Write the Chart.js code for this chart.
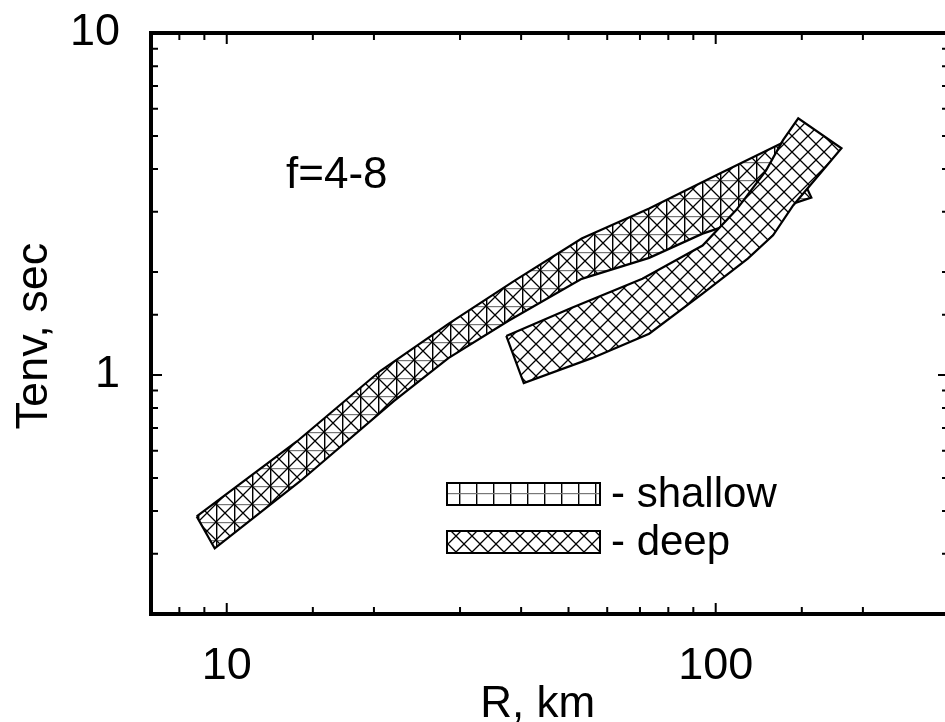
<!DOCTYPE html>
<html><head><meta charset="utf-8">
<script src="https://cdn.jsdelivr.net/npm/chart.js@4.4.1/dist/chart.umd.min.js"></script>
<style>
html,body{margin:0;padding:0;background:#fff;overflow:hidden;}
#wrap{width:945px;height:722px;overflow:hidden;position:relative;background:#fff;}
#inner{width:950px;height:722px;position:absolute;left:0;top:0;}
canvas{display:block;}
</style></head><body>
<div id="wrap"><div id="inner"><canvas id="c" width="950" height="722" style="width:950px;height:722px"></canvas></div></div>
<script>
// ---- data (R in km, Tenv in sec), band outlines ----
const xTickLabels = ['10', '100'];
const yTickLabels = ['1', '10'];
const shallowR = [8.68, 13.93, 20.6, 28.4, 38.8, 53.2, 73.1, 100, 138.7, 156.9, 94.0, 73.1, 53.2, 37.7, 28.4, 21.96, 14.13, 9.45, 8.68];
const shallowT = [0.386, 0.640, 1.027, 1.411, 1.887, 2.505, 3.07, 3.83, 4.82, 3.30, 2.59, 2.20, 1.91, 1.44, 1.12, 0.839, 0.489, 0.311, 0.386];
const deepR = [37.3, 50.8, 70.8, 94.0, 110, 126.7, 137.3, 147.5, 180.8, 144.0, 131.0, 116.3, 94.0, 73.1, 55.8, 40.5, 37.3];
const deepT = [1.301, 1.572, 1.912, 2.39, 3.03, 3.96, 4.86, 5.63, 4.60, 3.13, 2.56, 2.19, 1.73, 1.32, 1.12, 0.947, 1.301];
const legendLabels = ['- shallow', '- deep'];
const panelLabel = 'f=4-8';
const xTitle = 'R, km  ';
const yTitle = 'Tenv, sec  ';

const FONT = "'Liberation Sans', Arial, Helvetica, sans-serif";

function makeTile(size, opts) {
  const c = document.createElement('canvas');
  c.width = size; c.height = size;
  const g = c.getContext('2d');
  g.fillStyle = '#fff'; g.fillRect(0, 0, size, size);
  if (opts.grid) {
    g.strokeStyle = '#000'; g.lineWidth = 1.4;
    g.beginPath(); g.moveTo(0.7, 0); g.lineTo(0.7, size); g.stroke();
    g.strokeStyle = '#777'; g.lineWidth = 1.2;
    g.beginPath(); g.moveTo(0, 0.6); g.lineTo(size, 0.6); g.stroke();
  }
  if (opts.diag) {
    g.strokeStyle = '#000'; g.lineWidth = 1.3;
    g.beginPath();
    g.moveTo(-2, -2); g.lineTo(size + 2, size + 2);
    g.moveTo(size + 2, -2); g.lineTo(-2, size + 2);
    g.stroke();
  }
  return c;
}
const ctx0 = document.getElementById('c').getContext('2d');
const patBand = ctx0.createPattern(makeTile(18, {grid: true, diag: true}), 'repeat');
const patShallow = ctx0.createPattern(makeTile(17, {grid: true}), 'repeat');
const patDeep = ctx0.createPattern(makeTile(16, {diag: true}), 'repeat');

const toPts = (xs, ys) => xs.map((v, i) => ({x: v, y: ys[i]}));

const bandFill = {
  id: 'bandFill',
  beforeDatasetDraw(chart, args) {
    const ds = chart.data.datasets[args.index];
    const pts = args.meta.data;
    if (!ds.hatch || !pts.length) return;
    const a = chart.chartArea, g = chart.ctx;
    g.save();
    g.beginPath(); g.rect(a.left, a.top, a.right - a.left, a.bottom - a.top); g.clip();
    g.beginPath();
    pts.forEach((p, i) => i ? g.lineTo(p.x, p.y) : g.moveTo(p.x, p.y));
    g.closePath();
    g.fillStyle = ds.hatch;
    g.fill();
    g.restore();
  }
};

const isLabeled = (v, labels) => labels.some(l => Math.abs(Number(l) - v) < 1e-9 * Number(l));

const frame = {
  id: 'frame',
  afterDraw(chart) {
    const g = chart.ctx, a = chart.chartArea;
    const xs = chart.scales.x, ys = chart.scales.y;
    g.save();
    g.strokeStyle = '#000'; g.lineCap = 'butt';
    g.lineWidth = 2;
    xs.ticks.forEach(t => {
      const px = xs.getPixelForValue(t.value);
      const len = isLabeled(t.value, xTickLabels) ? 11 : 7;
      g.beginPath();
      g.moveTo(px, a.bottom); g.lineTo(px, a.bottom - len);
      g.moveTo(px, a.top); g.lineTo(px, a.top + len);
      g.stroke();
    });
    ys.ticks.forEach(t => {
      const py = ys.getPixelForValue(t.value);
      const len = isLabeled(t.value, yTickLabels) ? 11 : 7;
      g.beginPath();
      g.moveTo(a.left, py); g.lineTo(a.left + len, py);
      g.moveTo(a.right, py); g.lineTo(a.right - len, py);
      g.stroke();
    });
    g.lineWidth = 4;
    g.strokeRect(a.left, a.top, a.right - a.left, a.bottom - a.top);

    // panel label
    g.fillStyle = '#000';
    g.font = '44px ' + FONT;
    g.textBaseline = 'alphabetic'; g.textAlign = 'left';
    g.fillText(panelLabel, 286, 188);

    // legend
    g.font = '42px ' + FONT;
    const boxes = [[447, 483, patShallow], [447, 531, patDeep]];
    boxes.forEach((b, i) => {
      g.fillStyle = b[2];
      g.fillRect(b[0], b[1], 153, 22);
      g.lineWidth = 2; g.strokeStyle = '#000';
      g.strokeRect(b[0], b[1], 153, 22);
      g.fillStyle = '#000';
      g.textBaseline = 'middle';
      g.fillText(legendLabels[i], 611, b[1] + 12);
    });
    g.restore();
  }
};

const zeroPad = (s) => { s.paddingLeft = 0; s.paddingRight = 0; s.paddingTop = 0; s.paddingBottom = 0; };

new Chart(document.getElementById('c'), {
  type: 'scatter',
  data: {
    datasets: [
      {label: 'deep', data: toPts(deepR, deepT), showLine: true, tension: 0, fill: false,
       borderColor: '#000', borderWidth: 2.2, pointRadius: 0, order: 0, hatch: patDeep},
      {label: 'shallow', data: toPts(shallowR, shallowT), showLine: true, tension: 0, fill: false,
       borderColor: '#000', borderWidth: 2.2, pointRadius: 0, order: 1, hatch: patBand}
    ]
  },
  options: {
    responsive: false,
    animation: false,
    events: [],
    layout: {padding: {top: 33, right: 1, left: 0, bottom: 0}},
    plugins: {legend: {display: false}, tooltip: {enabled: false}},
    scales: {
      x: {
        type: 'logarithmic', min: 7, max: 300,
        grid: {display: false, drawTicks: false}, border: {display: false},
        ticks: {autoSkip: false, maxRotation: 0, padding: 26, color: '#000',
          font: {family: FONT, size: 45},
          callback: (v) => isLabeled(v, xTickLabels) ? xTickLabels.find(l => Math.abs(Number(l) - v) < 1e-6) : ''},
        title: {display: true, text: xTitle, color: '#000', font: {family: FONT, size: 44}, padding: {top: 0, bottom: -9}},
        afterFit: (s) => { s.height = 108; zeroPad(s); }
      },
      y: {
        type: 'logarithmic', min: 0.2, max: 10,
        grid: {display: false, drawTicks: false}, border: {display: false},
        ticks: {autoSkip: false, padding: 31, color: '#000',
          font: {family: FONT, size: 45},
          callback: (v) => isLabeled(v, yTickLabels) ? yTickLabels.find(l => Math.abs(Number(l) - v) < 1e-6) : ''},
        title: {display: true, text: yTitle, color: '#000', font: {family: FONT, size: 45}, padding: {top: 8, bottom: 0}},
        afterFit: (s) => { s.width = 151; zeroPad(s); }
      }
    }
  },
  plugins: [bandFill, frame]
});
</script>
</body></html>
